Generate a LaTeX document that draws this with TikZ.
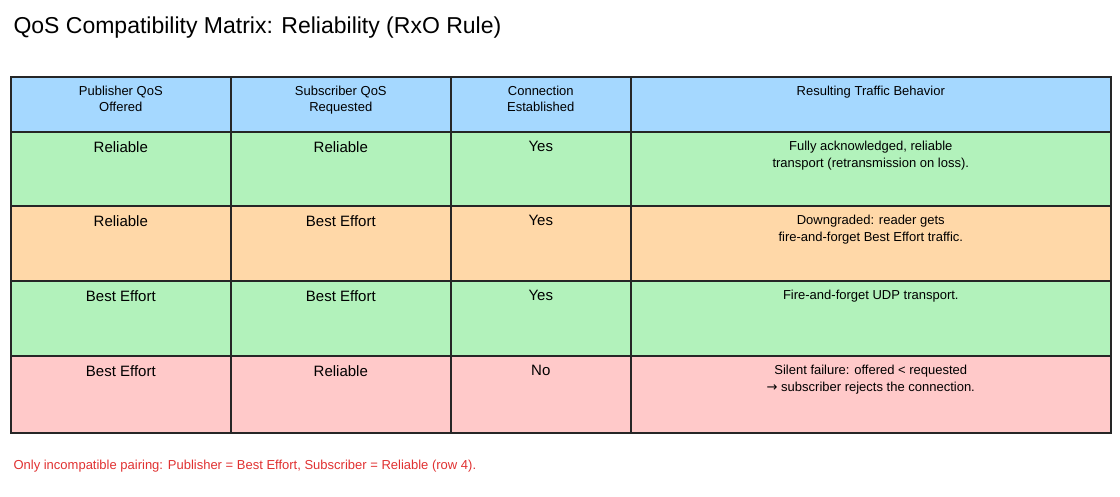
\documentclass[tikz,border=0pt]{standalone}
\usepackage{fontspec}
\setmainfont{Liberation Sans}
\newfontfamily\arrowfont{DejaVu Sans}
\usetikzlibrary{positioning}
\definecolor{hdr}{HTML}{A5D8FF}
\definecolor{okg}{HTML}{B2F2BB}
\definecolor{warn}{HTML}{FFD8A8}
\definecolor{bad}{HTML}{FFC9C9}
\definecolor{note}{HTML}{E03131}
\begin{document}
\begin{tikzpicture}[x=1pt,y=-1pt,
  cell/.style={draw=black!85, line width=1.6pt, inner sep=0pt, anchor=north west},
  txt/.style={anchor=north, align=center, font=\fontsize{13}{16}\selectfont, inner sep=0pt}]
\useasboundingbox (0,0) rectangle (1120,496);
\node[anchor=west, font=\fontsize{23}{26}\selectfont] (title) at (10,28) {QoS Compatibility Matrix: Reliability (RxO Rule)};

% columns: x positions and widths
\def\colx{{10,230,450,630}}
\def\colw{{220,220,180,480}}
% header
\foreach \c/\t in {0/{Publisher QoS\\Offered},1/{Subscriber QoS\\Requested},2/{Connection\\Established},3/{Resulting Traffic Behavior}}{
  \pgfmathsetmacro\xx{\colx[\c]}\pgfmathsetmacro\ww{\colw[\c]}
  \node[cell, fill=hdr, minimum width=\ww pt, minimum height=55pt] (h\c) at (\xx,76) {};
  \node[txt] at ([yshift=-10pt]h\c.north) {\t};
}
% rows
\foreach \r/\yy/\hh/\fc/\a/\b/\cc/\d in {
  1/131/74/okg/Reliable/Reliable/Yes/{Fully acknowledged, reliable\\transport (retransmission on loss).},
  2/205/75/warn/Reliable/Best Effort/Yes/{Downgraded: reader gets\\fire-and-forget Best Effort traffic.},
  3/280/75/okg/Best Effort/Best Effort/Yes/{Fire-and-forget UDP transport.},
  4/355/77/bad/Best Effort/Reliable/No/{Silent failure: offered < requested\\{\arrowfont →} subscriber rejects the connection.}}{
  \foreach \c/\t in {0/\a,1/\b,2/\cc,3/\d}{
    \pgfmathsetmacro\xx{\colx[\c]}\pgfmathsetmacro\ww{\colw[\c]}
    \node[cell, fill=\fc, minimum width=\ww pt, minimum height=\hh pt] (r\r c\c) at (\xx,\yy) {};
    \node[txt, font={\fontsize{\ifnum\c=3 13\else 15\fi}{17}\selectfont}] at ([yshift=-10pt]r\r c\c.north) {\t};
  }
}
\node[anchor=west, text=note, font=\fontsize{13}{15}\selectfont] (foot) at (10,466) {Only incompatible pairing: Publisher = Best Effort, Subscriber = Reliable (row 4).};
\end{tikzpicture}
\end{document}
